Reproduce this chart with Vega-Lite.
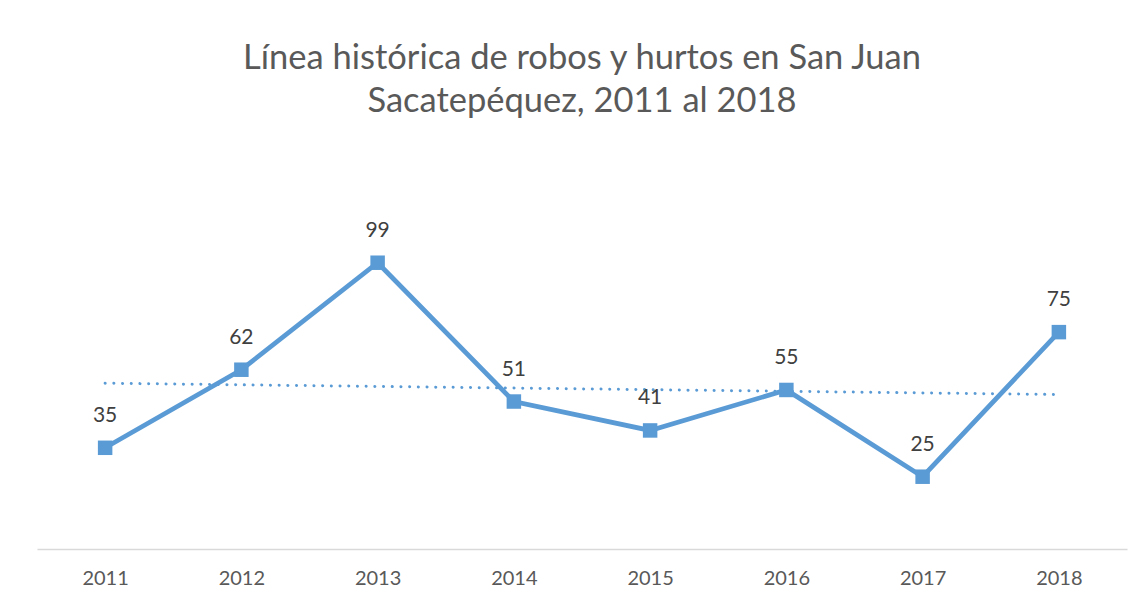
{
  "$schema": "https://vega.github.io/schema/vega-lite/v6.json",
  "width": 1090,
  "height": 347,
  "autosize": {"type": "none"},
  "padding": {"left": 37, "top": 202, "right": 16, "bottom": 55},
  "background": "white",
  "config": {
    "view": {"stroke": null},
    "font": "Lato"
  },
  "title": {
    "text": ["Línea histórica de robos y hurtos en San Juan", "Sacatepéquez, 2011 al 2018"],
    "anchor": "middle",
    "font": "Lato",
    "fontSize": 34.5,
    "fontWeight": "normal",
    "color": "#595959",
    "lineHeight": 43,
    "offset": 83
  },
  "data": {
    "values": [
      {"year": 2011, "robos": 35},
      {"year": 2012, "robos": 62},
      {"year": 2013, "robos": 99},
      {"year": 2014, "robos": 51},
      {"year": 2015, "robos": 41},
      {"year": 2016, "robos": 55},
      {"year": 2017, "robos": 25},
      {"year": 2018, "robos": 75}
    ]
  },
  "encoding": {
    "x": {
      "field": "year",
      "type": "quantitative",
      "scale": {"domain": [2010.5, 2018.5], "nice": false, "zero": false},
      "axis": {
        "title": null,
        "values": [2011, 2012, 2013, 2014, 2015, 2016, 2017, 2018],
        "format": "d",
        "ticks": false,
        "grid": false,
        "domainColor": "#D9D9D9",
        "domainWidth": 1.5,
        "labelFont": "Lato",
        "labelFontSize": 20,
        "labelColor": "#595959",
        "labelPadding": 19
      }
    },
    "y": {
      "field": "robos",
      "type": "quantitative",
      "scale": {"domain": [0, 120], "nice": false},
      "axis": null
    }
  },
  "layer": [
    {
      "mark": {"type": "line", "color": "#5B9BD5", "strokeWidth": 4.75}
    },
    {
      "mark": {"type": "point", "shape": "square", "filled": true, "size": 210, "color": "#5B9BD5", "opacity": 1}
    },
    {
      "transform": [{"regression": "robos", "on": "year"}],
      "mark": {"type": "line", "color": "#5B9BD5", "strokeWidth": 3, "strokeDash": [0.1, 8.6], "strokeCap": "round"}
    },
    {
      "mark": {"type": "text", "baseline": "middle", "dy": -32, "fontSize": 21, "color": "#404040", "font": "Lato"},
      "encoding": {"text": {"field": "robos", "type": "quantitative"}}
    }
  ]
}
